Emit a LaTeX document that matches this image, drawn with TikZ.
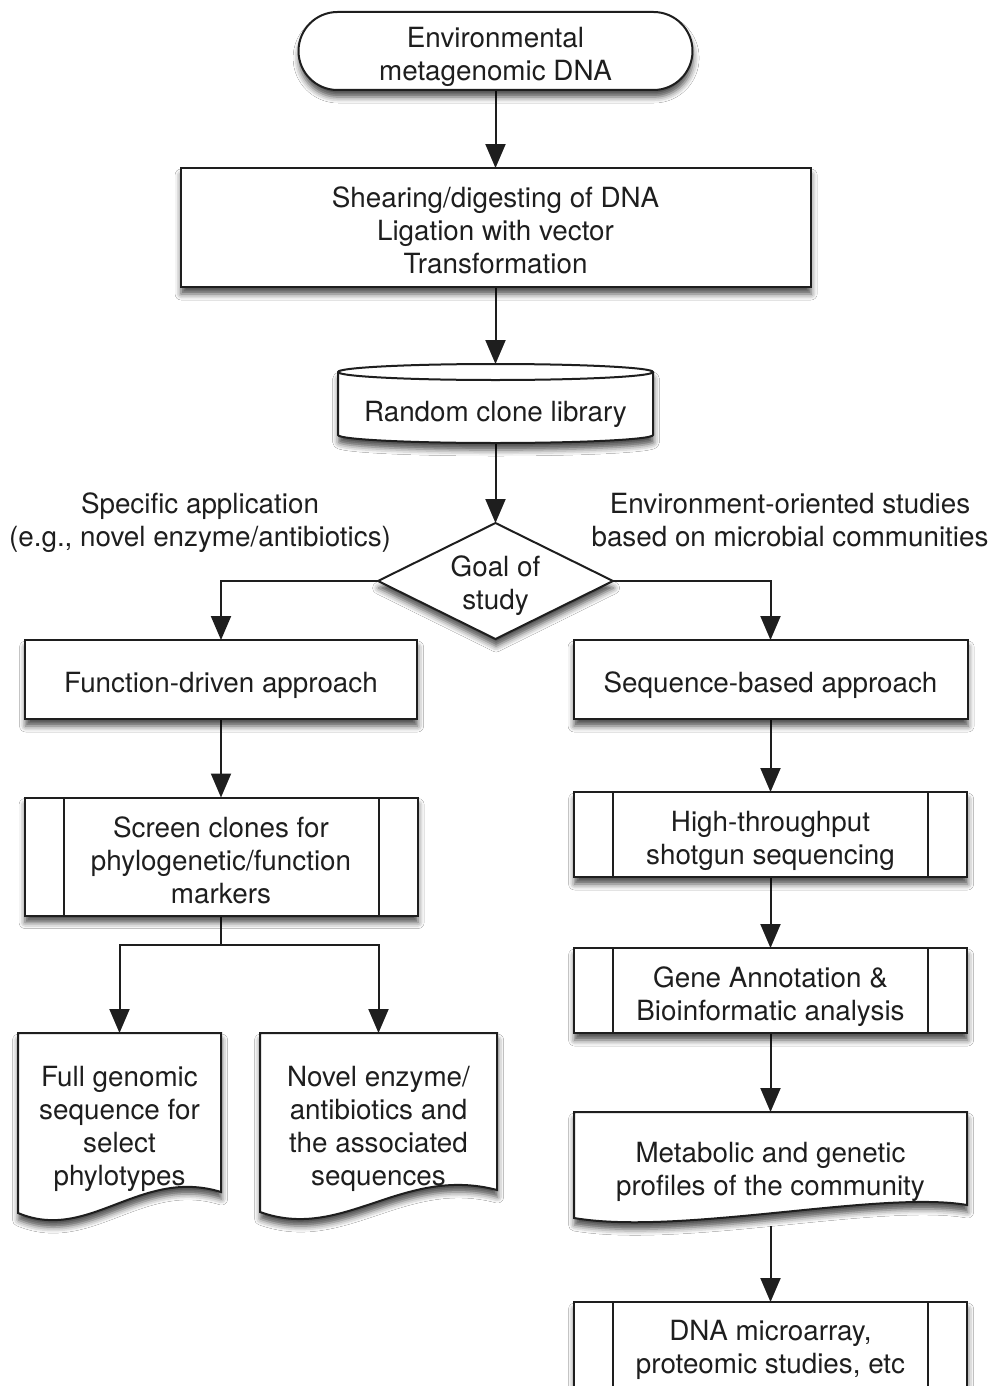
\documentclass[tikz,border=0pt]{standalone}
\usepackage{fontspec}
\setmainfont{TeX Gyre Heros}
\usetikzlibrary{arrows.meta,shapes.geometric,shapes.misc,shadows.blur}
\pgfdeclarelayer{bg}
\pgfsetlayers{bg,main}
\definecolor{ink}{HTML}{1E1E1E}
\tikzset{
  shd/.style={blur shadow={shadow xshift=0.3pt, shadow yshift=-3.5pt, shadow blur radius=3pt, shadow opacity=70}},
  txt/.style={text=ink, align=center, font=\fontsize{13.9}{16.5}\selectfont, inner sep=0pt, outer sep=0pt},
  base/.style={draw=ink, line width=1pt, fill=white, inner sep=0pt, outer sep=0pt},
  box/.style={base, rectangle, shd},
  holder/.style={rectangle, inner sep=0pt, outer sep=0pt},
  ar/.style={draw=ink, line width=1pt, -{Triangle[width=10pt,length=12pt]}},
  ln/.style={draw=ink, line width=1pt}
}
\begin{document}
\begin{tikzpicture}[x=0.5pt,y=-0.5pt]
\useasboundingbox (0,0) rectangle (993,1386);
\clip (0,0) rectangle (993,1386);

% top column
\node[base, rounded rectangle, shd, minimum width=197pt, minimum height=39pt,
  label={[txt,yshift=-2.75pt]center:{Environmental\\metagenomic DNA}}] (env) at (495.5,51) {};
\node[box, minimum width=315pt, minimum height=59.5pt,
  label={[txt,yshift=-1.5pt]center:{Shearing/digesting of DNA\\Ligation with vector\\Transformation}}] (shear) at (495.5,227.5) {};

% cylinder
\path[base, shd] (338,372) -- (338,435) arc[start angle=180,end angle=360,x radius=78.75pt,y radius=4pt] -- (653,372) arc[start angle=0,end angle=180,x radius=78.75pt,y radius=4pt] -- cycle;
\draw[ln] (338,372) arc[start angle=180,end angle=360,x radius=78.75pt,y radius=4pt];
\node[holder, minimum width=157.5pt, minimum height=39.5pt,
  label={[txt,yshift=-5.25pt]center:{Random clone library}}] (lib) at (495.5,403.5) {};

% decision
\node[base, diamond, aspect=2, shd, minimum width=117.5pt, minimum height=58pt,
  label={[txt,yshift=-2.25pt]center:{Goal of\\study}}] (goal) at (495.5,581) {};
\node[txt] (specl) at (200,522.5) {Specific application\\(e.g., novel enzyme/antibiotics)};
\node[txt] (envl) at (790,520.5) {Environment-oriented studies\\based on microbial communities};

% left branch
\node[box, minimum width=196pt, minimum height=39.5pt,
  label={[txt,yshift=-3pt]center:{Function-driven approach}}] (fun) at (221,679.5) {};
\node[box, minimum width=196.5pt, minimum height=59pt,
  label={[txt,yshift=-1.85pt]center:{Screen clones for\\phylogenetic/function\\markers}}] (scr) at (221,856.5) {};
\draw[ln] ([xshift=19.5pt]scr.north west) -- ([xshift=19.5pt]scr.south west);
\draw[ln] ([xshift=-19.5pt]scr.north east) -- ([xshift=-19.5pt]scr.south east);
\coordinate (sp) at (221,945);

\path[base, shd] (18,1033) -- (221,1033) -- (221,1192) .. controls (140,1167) and (89,1243) .. (18,1213) -- cycle;
\node[holder, minimum width=101.5pt, minimum height=92.5pt,
  label={[txt,yshift=-1.5pt]center:{Full genomic\\sequence for\\select\\phylotypes}}] (full) at (119.5,1125.5) {};
\path[base, shd] (260,1033) -- (497,1033) -- (497,1190) .. controls (402,1165) and (343,1242) .. (260,1212) -- cycle;
\node[holder, minimum width=118.5pt, minimum height=92.5pt,
  label={[txt,yshift=-1.5pt]center:{Novel enzyme/\\antibiotics and\\the associated\\sequences}}] (novel) at (378.5,1125.5) {};

% right branch
\node[box, minimum width=197pt, minimum height=39.5pt,
  label={[txt,yshift=-3pt]center:{Sequence-based approach}}] (seq) at (770.5,679.5) {};
\node[box, minimum width=196.5pt, minimum height=42.5pt,
  label={[txt,yshift=-3pt]center:{High-throughput\\shotgun sequencing}}] (hts) at (770.5,834.5) {};
\draw[ln] ([xshift=19.5pt]hts.north west) -- ([xshift=19.5pt]hts.south west);
\draw[ln] ([xshift=-19.5pt]hts.north east) -- ([xshift=-19.5pt]hts.south east);
\node[box, minimum width=196.5pt, minimum height=42.5pt,
  label={[txt,yshift=-3.25pt]center:{Gene Annotation \&\\Bioinformatic analysis}}] (gene) at (770.5,990.5) {};
\draw[ln] ([xshift=19.5pt]gene.north west) -- ([xshift=19.5pt]gene.south west);
\draw[ln] ([xshift=-19.5pt]gene.north east) -- ([xshift=-19.5pt]gene.south east);

\path[base, shd] (574,1112) -- (967,1112) -- (967,1205) .. controls (880,1190) and (680,1236) .. (574,1218) -- cycle;
\node[holder, minimum width=196.5pt, minimum height=57pt,
  label={[txt,yshift=-1.25pt]center:{Metabolic and genetic\\profiles of the community}}] (met) at (770.5,1169) {};

\node[box, minimum width=196.5pt, minimum height=45pt,
  label={[txt,yshift=-1.5pt]center:{DNA microarray,\\proteomic studies, etc}}] (dna) at (770.5,1347) {};
\draw[ln] ([xshift=19.5pt]dna.north west) -- ([xshift=19.5pt]dna.south west);
\draw[ln] ([xshift=-19.5pt]dna.north east) -- ([xshift=-19.5pt]dna.south east);

% background and connectors
\begin{pgfonlayer}{bg}
\fill[white] (0,0) rectangle (993,1386);
\draw[ar] (env.south) -- (shear.north);
\draw[ar] (shear.south) -- (lib.north);
\draw[ar] (lib.south) -- (goal.north);
\draw[ar] (goal.west) -| (fun.north);
\draw[ar] (goal.east) -| (seq.north);
\draw[ar] (fun.south) -- (scr.north);
\draw[ln] (scr.south) -- (sp);
\draw[ar] (sp) -| (full.north);
\draw[ar] (sp) -| (novel.north);
\draw[ar] (seq.south) -- (hts.north);
\draw[ar] (hts.south) -- (gene.north);
\draw[ar] (gene.south) -- (met.north);
\draw[ar] (met.south) -- (dna.north);
\end{pgfonlayer}
\end{tikzpicture}
\end{document}
